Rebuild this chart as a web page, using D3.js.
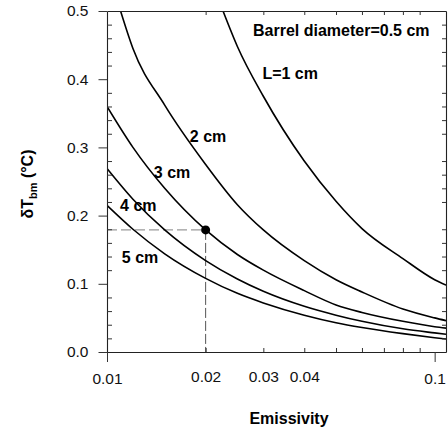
<!DOCTYPE html>
<html>
<head>
<meta charset="utf-8">
<script src="https://cdn.jsdelivr.net/npm/d3@7"></script>
<style>
  body { margin: 0; background: #fff; }
  svg { display: block; }
  .curve { fill: none; stroke: #000; stroke-width: 1.6; }
  .lbl { font-family: "Liberation Sans", Arial, sans-serif; font-weight: bold; font-size: 16px; fill: #000; }
  .tick text { font-family: "Liberation Sans", Arial, sans-serif; font-size: 15.5px; fill: #111; }
</style>
</head>
<body>
<div id="chart"></div>
<script>
// values: [emissivity, deltaT (degC)]
const curve1cm = [[0.0226, 0.5], [0.025, 0.448], [0.03, 0.375], [0.04, 0.28], [0.05, 0.221], [0.06, 0.181],
  [0.08, 0.137], [0.1, 0.106], [0.1083, 0.098]];
const curve2cm = [[0.011, 0.5], [0.012, 0.445], [0.015, 0.362], [0.02, 0.275], [0.025, 0.216], [0.03, 0.179],
  [0.04, 0.134], [0.05, 0.106], [0.06, 0.088], [0.08, 0.063], [0.1, 0.05], [0.1083, 0.046]];
const curve3cm = [[0.01, 0.36], [0.012, 0.30], [0.015, 0.24], [0.02, 0.179], [0.025, 0.143], [0.03, 0.12],
  [0.04, 0.09], [0.05, 0.069], [0.06, 0.058], [0.08, 0.045], [0.1, 0.037], [0.1083, 0.035]];
const curve4cm = [[0.01, 0.269], [0.012, 0.224], [0.015, 0.179], [0.02, 0.134], [0.025, 0.107], [0.03, 0.089],
  [0.04, 0.067], [0.05, 0.054], [0.06, 0.045], [0.08, 0.034], [0.1, 0.028], [0.1083, 0.026]];
const curve5cm = [[0.01, 0.215], [0.012, 0.18], [0.015, 0.144], [0.02, 0.108], [0.025, 0.086], [0.03, 0.072],
  [0.04, 0.054], [0.05, 0.043], [0.06, 0.036], [0.08, 0.027], [0.1, 0.021], [0.1083, 0.019]];

const markedPoint = [0.02, 0.179];

const yMajorTicks = [0, 0.1, 0.2, 0.3, 0.4, 0.5];
const yMinorTicks = d3.range(0.02, 0.5, 0.02).filter(v => Math.abs(v * 10 - Math.round(v * 10)) > 1e-6);
const xMajorTicks = [0.01, 0.1];
const xMinorTicks = [0.02, 0.03, 0.04, 0.05, 0.06, 0.07, 0.08, 0.09];
const xMinorLabels = [0.02, 0.03, 0.04];

// text labels anchored in data units [emissivity, deltaT]
const textLabels = [
  { text: 'Barrel diameter=0.5 cm', at: [0.0279, 0.4633] },
  { text: 'L=1 cm', at: [0.0298, 0.4003] },
  { text: '2 cm', at: [0.0179, 0.3084] },
  { text: '3 cm', at: [0.0139, 0.2551] },
  { text: '4 cm', at: [0.01096, 0.2072] },
  { text: '5 cm', at: [0.0111, 0.1309] }
];

const config = { width: 448, height: 434, left: 107, right: 446, top: 11, bottom: 352 };

const svg = d3.select('#chart').append('svg')
  .attr('width', config.width)
  .attr('height', config.height);

const x = d3.scaleLog().domain([0.01, 0.1083]).range([config.left, config.right]);
const y = d3.scaleLinear().domain([0, 0.5]).range([config.bottom, config.top]);

svg.append('clipPath').attr('id', 'plot-clip')
  .append('rect')
  .attr('x', config.left).attr('y', config.top)
  .attr('width', config.right - config.left).attr('height', config.bottom - config.top);

// dashed guide lines to the marked point
svg.append('line')
  .attr('x1', x(0.01)).attr('x2', x(markedPoint[0]))
  .attr('y1', y(markedPoint[1])).attr('y2', y(markedPoint[1]))
  .attr('stroke', '#9a9a9a').attr('stroke-width', 1.2).attr('stroke-dasharray', '10,4');
svg.append('line')
  .attr('x1', x(markedPoint[0])).attr('x2', x(markedPoint[0]))
  .attr('y1', y(markedPoint[1])).attr('y2', y(0))
  .attr('stroke', '#555').attr('stroke-width', 1).attr('stroke-dasharray', '10,3');

const line = d3.line()
  .x(d => x(d[0]))
  .y(d => y(d[1]))
  .curve(d3.curveMonotoneX);

svg.append('g').attr('clip-path', 'url(#plot-clip)')
  .selectAll('path')
  .data([curve1cm, curve2cm, curve3cm, curve4cm, curve5cm])
  .enter().append('path')
  .attr('class', 'curve')
  .attr('d', line);

svg.append('circle')
  .attr('cx', x(markedPoint[0])).attr('cy', y(markedPoint[1]))
  .attr('r', 4.5).attr('fill', '#000');

function styleAxis(g) {
  g.selectAll('.domain').attr('stroke', '#222').attr('stroke-width', 1.1);
  g.selectAll('.tick line').attr('stroke', '#333');
  g.attr('font-family', null).attr('font-size', null);
}

// left axis
svg.append('g')
  .attr('transform', `translate(${config.left},0)`)
  .call(d3.axisLeft(y).tickValues(yMajorTicks).tickSize(8.5).tickSizeOuter(0).tickPadding(10).tickFormat(d3.format('.1f')))
  .call(styleAxis);
svg.append('g')
  .attr('transform', `translate(${config.left},0)`)
  .call(d3.axisLeft(y).tickValues(yMinorTicks).tickSize(-5).tickFormat(''))
  .call(g => g.select('.domain').remove())
  .call(styleAxis);

// right axis
svg.append('g')
  .attr('transform', `translate(${config.right},0)`)
  .call(d3.axisRight(y).tickValues(yMinorTicks).tickSize(-4).tickSizeOuter(0).tickFormat(''))
  .call(styleAxis);

// bottom axis
svg.append('g')
  .attr('transform', `translate(0,${config.bottom})`)
  .call(d3.axisBottom(x).tickValues(xMajorTicks).tickSize(10).tickSizeOuter(0).tickPadding(11.4).tickFormat(d3.format('.2~f')))
  .call(styleAxis);
svg.append('g')
  .attr('transform', `translate(0,${config.bottom})`)
  .call(d3.axisBottom(x).tickValues(xMinorTicks).tickSize(-4).tickPadding(19)
    .tickFormat(d => xMinorLabels.includes(d) ? d3.format('.2f')(d) : ''))
  .call(g => g.select('.domain').remove())
  .call(styleAxis);

// top axis
svg.append('g')
  .attr('transform', `translate(0,${config.top})`)
  .call(d3.axisTop(x).tickValues(xMinorTicks).tickSize(-4).tickSizeOuter(0).tickFormat(''))
  .call(styleAxis);

svg.selectAll('.label-text')
  .data(textLabels)
  .enter().append('text')
  .attr('class', 'lbl')
  .attr('x', d => x(d.at[0]))
  .attr('y', d => y(d.at[1]))
  .text(d => d.text);

svg.append('text')
  .attr('class', 'lbl')
  .attr('x', 289)
  .attr('y', 424)
  .attr('text-anchor', 'middle')
  .text('Emissivity');

const yTitle = svg.append('text')
  .attr('class', 'lbl')
  .attr('transform', 'translate(33,184) rotate(-90)')
  .attr('text-anchor', 'middle');
yTitle.append('tspan').text('δT');
yTitle.append('tspan').attr('dy', 4).attr('font-size', 11).text('bm');
yTitle.append('tspan').attr('dy', -4).text(' (°C)');
</script>
</body>
</html>
